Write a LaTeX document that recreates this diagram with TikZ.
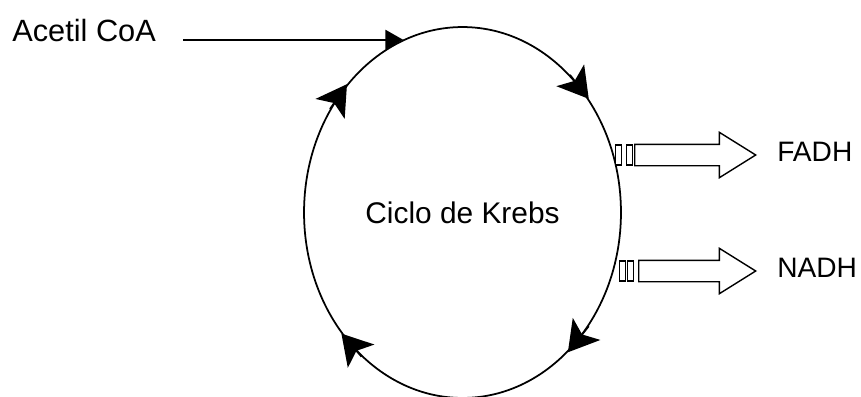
\documentclass[tikz,border=0pt]{standalone}
\usepackage{fontspec}
\setmainfont{Liberation Sans}
\usetikzlibrary{arrows.meta,positioning,shapes.geometric,shapes.arrows}
\tikzset{
  every picture/.style={line join=miter},
  lbl/.style={font=\fontsize{17.5}{20}\selectfont, inner sep=0pt, text=black},
  olbl/.style={lbl, font=\fontsize{16}{18}\selectfont, anchor=west},
  cyc/.style={draw, ellipse, line width=1pt, inner sep=0pt,
    minimum width=6.34cm, minimum height=7.42cm, font=\fontsize{17}{20}\selectfont},
  turn/.style={-{Stealth[length=17pt,width=20pt,inset=4pt]}, line width=1pt},
  feed/.style={-{Triangle[length=10pt,width=11pt]}, line width=1.2pt},
  tick/.style={draw, fill=white, line width=0.8pt, inner sep=0pt,
    minimum width=0.12cm, minimum height=0.4cm},
  yield/.style={single arrow, draw, fill=white, line width=0.8pt,
    inner xsep=0pt, inner ysep=0.2cm, single arrow head extend=0.24cm,
    single arrow tip angle=64, anchor=tip},
}
\begin{document}
\begin{tikzpicture}[x=0.02cm, y=-0.02cm]
  \useasboundingbox (0,0) rectangle (861,396);
  % the cycle
  \node[cyc] (krebs) at (462.5,212.5) {Ciclo de Krebs};
  \foreach \a/\b in {142/132, 52/42, 318/307.5, 235/225}{
    \draw[turn] (krebs.\a) -- (krebs.\b);}
  % input
  \node[lbl, anchor=west] (acetil) at (12,31) {Acetil CoA};
  \coordinate (in) at (krebs.109);
  \draw[feed, shorten <=0.54cm] (acetil.east |- in) -- (in);
  % outputs
  \node[olbl] (fadh) at (777,152) {FADH};
  \node[olbl] (nadh) at (777,268) {NADH};
  \node[tick] (fadht1) at (618.5,155) {};
  \node[tick] (fadht2) at (629.5,155) {};
  \node[yield, minimum height=2.42cm] (fadhout) at (757,155) {};
  \node[tick] (nadht1) at (622.5,271) {};
  \node[tick] (nadht2) at (630.5,271) {};
  \node[yield, minimum height=2.34cm] (nadhout) at (757,271) {};
\end{tikzpicture}
\end{document}
